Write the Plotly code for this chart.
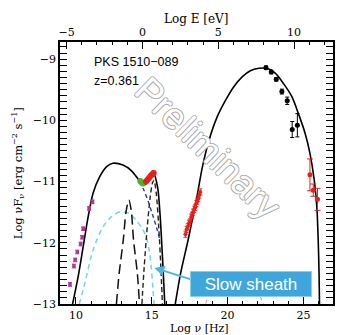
import plotly.graph_objects as go

# ---------------- data ----------------
# total model: synchrotron hump (+ thermal)
sync_x = [9.78, 10.15, 10.48, 10.81, 11.13, 11.57, 12.01, 12.44, 13.10, 13.65, 14.08, 14.41, 14.67, 14.96, 15.13, 15.39, 15.55, 15.72, 15.86]
sync_y = [-13.0, -12.55, -12.06, -11.57, -11.19, -10.92, -10.76, -10.70, -10.73, -10.82, -10.95, -11.06, -11.03, -10.91, -10.87, -11.10, -11.55, -12.30, -13.0]
# total model: inverse Compton hump
ic_x = [16.55, 16.9, 17.4, 17.94, 18.34, 18.78, 19.32, 19.87, 20.41, 20.96, 21.5, 22.05, 22.59, 23.14, 23.69, 24.23, 24.67, 25.11, 25.43, 25.70, 25.88, 25.98, 26.03, 26.06]
ic_y = [-13.0, -12.5, -11.95, -11.30, -10.76, -10.32, -9.94, -9.67, -9.45, -9.29, -9.19, -9.15, -9.15, -9.23, -9.40, -9.61, -9.89, -10.21, -10.54, -10.95, -11.40, -12.0, -12.5, -13.0]
# slow sheath synchrotron (light blue dashed)
slow_x = [10.22, 10.59, 11.13, 11.79, 12.40, 12.99, 13.50, 13.97, 14.40, 14.63, 14.85, 14.96, 15.08, 15.15]
slow_y = [-13.0, -12.66, -12.12, -11.74, -11.56, -11.49, -11.52, -11.63, -11.78, -11.90, -12.15, -12.39, -12.75, -13.0]
# slow sheath IC (pink dashed, mostly hidden)
slowic_x = [18.4, 18.9, 19.6, 20.5, 21.4, 22.0, 22.5]
slowic_y = [-13.1, -12.8, -12.62, -12.55, -12.62, -12.8, -13.1]
# narrow long-dashed component
narrow_x = [12.67, 12.85, 13.12, 13.30, 13.49, 13.65, 13.80, 14.05, 14.19]
narrow_y = [-13.0, -12.5, -11.96, -11.50, -11.30, -11.48, -11.96, -12.5, -13.0]
# short-dashed component (disk)
disk_x = [14.35, 14.5, 14.7, 14.9, 15.05, 15.15, 15.3, 15.45, 15.6, 15.7]
disk_y = [-13.0, -12.4, -11.75, -11.25, -11.02, -10.98, -11.2, -11.7, -12.4, -13.0]
# dark blue dashed component
blue_x = [14.2, 14.5, 14.8, 15.1, 15.35, 15.5]
blue_y = [-11.0, -11.15, -11.35, -11.58, -11.78, -11.92]

# observations
radio_x = [9.61, 9.87, 9.95, 10.09, 10.31, 10.41, 10.48, 10.87, 11.09]
radio_y = [-12.68, -12.38, -12.28, -12.15, -12.02, -11.91, -11.77, -11.44, -11.33]
green_x = [14.24, 14.32, 14.41]
green_y = [-10.99, -11.01, -11.03]
opt_x = [14.62, 14.72, 14.82, 14.92, 15.0, 15.08, 15.13]
opt_y = [-11.0, -10.97, -10.94, -10.91, -10.89, -10.87, -10.86]
xray_x = [17.22, 17.3, 17.38, 17.45, 17.52, 17.6, 17.66, 17.72, 17.8, 17.87, 17.94, 18.0, 18.07, 18.14, 18.2]
xray_y = [-11.86, -11.78, -11.74, -11.68, -11.66, -11.58, -11.55, -11.5, -11.45, -11.42, -11.36, -11.32, -11.28, -11.22, -11.17]
fermi_x = [22.53, 22.88, 23.21, 23.58, 23.93, 24.26, 24.60]
fermi_y = [-9.14, -9.21, -9.33, -9.53, -9.68, -10.15, -10.08]
fermi_e = [0.03, 0.03, 0.03, 0.04, 0.06, 0.13, 0.19]
tev_x = [25.43, 25.65, 25.93]
tev_y = [-10.89, -11.14, -11.29]
tev_e = [0.26, 0.10, 0.18]
tev_xe = [0.0, 0.12, 0.10]

LOG_H = -14.383  # log10(h in eV s)
XR = [8.95, 26.95]
YR = [-13.0, -8.72]

fig = go.Figure()

def line(x, y, color, dash="solid", width=1.6):
    fig.add_trace(go.Scatter(x=x, y=y, mode="lines", line=dict(color=color, dash=dash, width=width, shape="spline", smoothing=0.8), hoverinfo="skip"))

line(slowic_x, slowic_y, "#f4a0a0", "4px,3px", 1.2)
line(slow_x, slow_y, "#7fd3ea", "5px,4px", 1.6)
line(narrow_x, narrow_y, "#111111", "10px,5px", 1.5)
line(disk_x, disk_y, "#222222", "5px,3px", 1.4)
line(blue_x, blue_y, "#2a3a9c", "4px,3px", 1.4)
line(sync_x, sync_y, "black", "solid", 1.6)
line(ic_x, ic_y, "black", "solid", 1.6)

fig.add_trace(go.Scatter(x=radio_x, y=radio_y, mode="markers",
    marker=dict(color="#b03497", size=3.5, symbol="square"),
    error_y=dict(type="constant", value=0.03, color="#b03497", thickness=1, width=2)))
fig.add_trace(go.Scatter(x=green_x, y=green_y, mode="markers", marker=dict(color="#4fb02c", size=6)))
fig.add_trace(go.Scatter(x=opt_x, y=opt_y, mode="markers", marker=dict(color="#e8201c", size=6)))
fig.add_trace(go.Scatter(x=xray_x, y=xray_y, mode="markers",
    marker=dict(color="#e8201c", size=4),
    error_y=dict(type="constant", value=0.05, color="#e8201c", thickness=1, width=2),
    error_x=dict(type="constant", value=0.04, color="#e8201c", thickness=1, width=0)))
fig.add_trace(go.Scatter(x=fermi_x, y=fermi_y, mode="markers",
    marker=dict(color="black", size=5),
    error_y=dict(type="data", array=fermi_e, color="black", thickness=1, width=2)))
fig.add_trace(go.Scatter(x=tev_x, y=tev_y, mode="markers",
    marker=dict(color="#e8201c", size=5),
    error_y=dict(type="data", array=tev_e, color="#e8201c", thickness=1, width=3),
    error_x=dict(type="data", array=tev_xe, color="#e8201c", thickness=1, width=0)))
# dummy trace for the top energy axis
fig.add_trace(go.Scatter(x=[None], y=[None], xaxis="x2", mode="markers", hoverinfo="skip"))

tickfont = dict(family="DejaVu Serif", size=11, color="black")
common = dict(showline=True, linecolor="black", linewidth=1.5, ticks="inside", ticklen=7,
              tickwidth=1, tickcolor="black", showgrid=False, zeroline=False, tickfont=tickfont)

fig.update_layout(
    width=338, height=335, margin=dict(l=60, r=3, t=42, b=31),
    paper_bgcolor="white", plot_bgcolor="white", showlegend=False,
    xaxis=dict(range=XR, tickvals=[10, 15, 20, 25], mirror=False,
               minor=dict(dtick=1, ticklen=3.5, ticks="inside", tickcolor="black"), **common),
    xaxis2=dict(range=[XR[0] + LOG_H, XR[1] + LOG_H], overlaying="x", side="top",
                tickvals=[-5, 0, 5, 10], anchor="y",
                minor=dict(dtick=1, tick0=0, ticklen=3.5, ticks="inside", tickcolor="black"), **common),
    yaxis=dict(range=YR, dtick=1, tick0=-13, mirror="allticks",
               minor=dict(dtick=0.1, ticklen=3.5, ticks="inside", tickcolor="black"), **common),
)

ann = []
ann.append(dict(text="Log E [eV]", xref="paper", yref="paper", x=0.498, y=1.088, yanchor="middle",
                xanchor="center", showarrow=False,
                font=dict(family="DejaVu Serif", size=12, color="black")))
ann.append(dict(text="Log ν [Hz]", xref="paper", yref="paper", x=0.51, y=-0.093, yanchor="middle",
                xanchor="center", showarrow=False,
                font=dict(family="DejaVu Serif", size=11, color="black")))
ann.append(dict(text="Log νF<sub>ν</sub> [erg cm<sup>−2</sup> s<sup>−1</sup>]", xref="paper", yref="paper",
                x=-0.153, y=0.5, xanchor="center", yanchor="middle", textangle=-90, showarrow=False,
                font=dict(family="DejaVu Serif", size=11.5, color="black")))
ann.append(dict(text="PKS 1510−089", x=11.03, y=-9.044, xanchor="left", yanchor="middle", showarrow=False,
                font=dict(family="Liberation Sans", size=12.5, color="black")))
ann.append(dict(text="z=0.361", x=11.03, y=-9.354, xanchor="left", yanchor="middle", showarrow=False,
                font=dict(family="Liberation Sans", size=12.5, color="black")))
ann.append(dict(text="Preliminary", x=18.71, y=-10.46, textangle=44, showarrow=False,
                xanchor="center", yanchor="middle",
                font=dict(family="Liberation Sans", size=37, color="white",
                          shadow="1px 0 0 #a8a8a8, -1px 0 0 #a8a8a8, 0 1px 0 #a8a8a8, 0 -1px 0 #a8a8a8")))
ann.append(dict(text="", x=15.17, y=-12.41, ax=38, ay=12, showarrow=True, arrowhead=2, arrowsize=1,
                arrowwidth=2, arrowcolor="#4db5e4"))
ann.append(dict(text="Slow sheath", x=21.56, y=-12.68, showarrow=False, bgcolor="#3fa6dc",
                xanchor="center", yanchor="middle",
                bordercolor="#8fcfee", borderwidth=1, width=118, height=22, borderpad=1,
                font=dict(family="Liberation Sans", size=17, color="white")))
fig.update_layout(annotations=ann)

fig.write_html("out.html")
